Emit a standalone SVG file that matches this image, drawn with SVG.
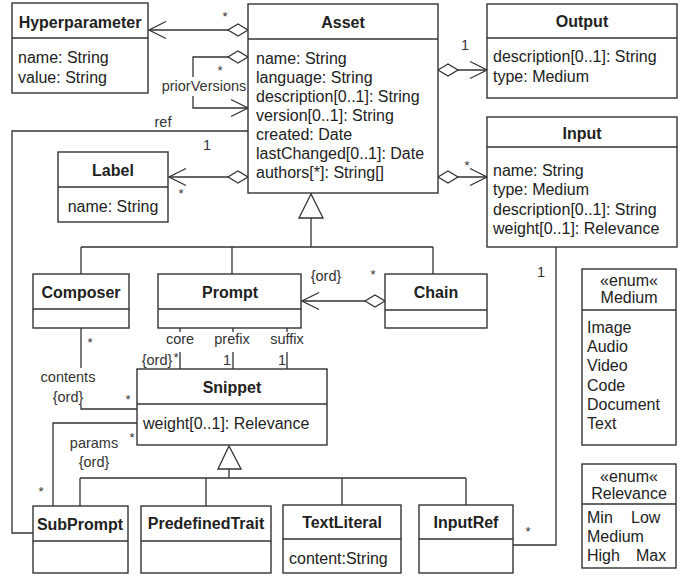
<svg xmlns="http://www.w3.org/2000/svg" width="684" height="576" viewBox="0 0 684 576">
<style>
.box{fill:#fff;stroke:#333;stroke-width:1.4}
.ln{fill:none;stroke:#333;stroke-width:1.3}
text{font-family:"Liberation Sans",Arial,sans-serif;fill:#222}
.t{font-size:16px;font-weight:bold;text-anchor:middle;dominant-baseline:central}
.a{font-size:16px;dominant-baseline:central}
.c{font-size:16px;text-anchor:middle;dominant-baseline:central}
.l{font-size:14.5px;text-anchor:middle;dominant-baseline:central;fill:#333}
.s{font-size:13px;text-anchor:middle;fill:#333}
</style>
<defs>
<marker id="arr" markerUnits="userSpaceOnUse" viewBox="-20 -10 22 20" refX="0" refY="0" markerWidth="22" markerHeight="20" orient="auto" overflow="visible">
<path d="M-17,-8.5 L0,0 L-17,8.5" fill="none" stroke="#333" stroke-width="1.3"/>
</marker>
<marker id="dia" markerUnits="userSpaceOnUse" viewBox="-1 -8 22 16" refX="0" refY="0" markerWidth="22" markerHeight="16" orient="auto" overflow="visible">
<path d="M0,0 L10,-6 L20,0 L10,6 Z" fill="#fff" stroke="#333" stroke-width="1.3"/>
</marker>
</defs>

<g id="connectors">
<path class="ln" d="M248,30 L149,30" marker-start="url(#dia)" marker-end="url(#arr)"/>
<path class="ln" d="M248,57 L193,57 L193,77" marker-start="url(#dia)"/>
<path class="ln" d="M193,96 L193,108 L248,108" marker-end="url(#arr)"/>
<path class="ln" d="M248,131 L12,131 L12,533 L33,533"/>
<path class="ln" d="M248,177 L169,177" marker-start="url(#dia)" marker-end="url(#arr)"/>
<path class="ln" d="M438,70 L487,70" marker-start="url(#dia)" marker-end="url(#arr)"/>
<path class="ln" d="M438,177 L487,177" marker-start="url(#dia)" marker-end="url(#arr)"/>
<path class="ln" d="M311,218 L311,247 M81,247 L433,247 M81,247 L81,274 M232,247 L232,274 M433,247 L433,274"/>
<polygon points="311,194 299,218 323,218" fill="#fff" stroke="#333" stroke-width="1.3"/>
<path class="ln" d="M385,301 L302,301" marker-start="url(#dia)" marker-end="url(#arr)"/>
<path class="ln" d="M180,328 L180,332 M180,352 L180,369 M233,328 L233,332 M233,352 L233,369 M287,328 L287,332 M287,352 L287,369"/>
<path class="ln" d="M81,328 L81,368 M81,405 L81,409 L137,409"/>
<path class="ln" d="M137,423 L53,423 L53,506"/>
<path class="ln" d="M229,469 L229,478 M80,478 L466,478 M80,478 L80,506 M206,478 L206,506 M342,478 L342,505 M466,478 L466,505"/>
<polygon points="229,446 218,469 241,469" fill="#fff" stroke="#333" stroke-width="1.3"/>
<path class="ln" d="M556,247 L556,545 L513,545"/>

<text class="s" x="225" y="21">*</text>
<text class="s" x="220" y="75">*</text>
<text class="l" x="204" y="86">priorVersions</text>
<text class="l" x="163" y="122">ref</text>
<text class="l" x="207" y="145">1</text>
<text class="s" x="181" y="198">*</text>
<text class="l" x="465" y="45">1</text>
<text class="s" x="467" y="170">*</text>
<text class="l" x="326" y="276">{ord}</text>
<text class="s" x="373" y="279">*</text>
<text class="s" x="90" y="347">*</text>
<text class="l" x="68" y="377">contents</text>
<text class="l" x="68" y="397">{ord}</text>
<text class="s" x="128" y="404">*</text>
<text class="l" x="180" y="339">core</text>
<text class="l" x="232" y="339">prefix</text>
<text class="l" x="287" y="339">suffix</text>
<text class="l" x="157" y="360">{ord}</text>
<text class="s" x="176" y="362">*</text>
<text class="l" x="227" y="360">1</text>
<text class="l" x="282" y="360">1</text>
<text class="l" x="94" y="443">params</text>
<text class="l" x="94" y="462">{ord}</text>
<text class="s" x="132" y="442">*</text>
<text class="s" x="41" y="496">*</text>
<text class="l" x="541" y="272">1</text>
<text class="s" x="528" y="536">*</text>
</g>

<g id="Hyperparameter">
<rect class="box" x="12" y="3" width="136" height="90"/>
<line class="ln" x1="12" y1="38" x2="148" y2="38"/>
<text class="t" x="80" y="22">Hyperparameter</text>
<text class="a" x="18" y="57">name: String</text>
<text class="a" x="18" y="77">value: String</text>
</g>

<g id="Asset">
<rect class="box" x="248" y="4" width="190" height="189"/>
<line class="ln" x1="248" y1="39" x2="438" y2="39"/>
<text class="t" x="343" y="22">Asset</text>
<text class="a" x="256" y="58">name: String</text>
<text class="a" x="256" y="77">language: String</text>
<text class="a" x="256" y="96">description[0..1]: String</text>
<text class="a" x="256" y="115">version[0..1]: String</text>
<text class="a" x="256" y="134">created: Date</text>
<text class="a" x="256" y="153">lastChanged[0..1]: Date</text>
<text class="a" x="256" y="172">authors[*]: String[]</text>
</g>

<g id="Output">
<rect class="box" x="487" y="4" width="190" height="94"/>
<line class="ln" x1="487" y1="38" x2="677" y2="38"/>
<text class="t" x="582" y="21">Output</text>
<text class="a" x="493" y="56">description[0..1]: String</text>
<text class="a" x="493" y="76">type: Medium</text>
</g>

<g id="Input">
<rect class="box" x="487" y="117" width="190" height="130"/>
<line class="ln" x1="487" y1="147" x2="677" y2="147"/>
<text class="t" x="582" y="133">Input</text>
<text class="a" x="493" y="170">name: String</text>
<text class="a" x="493" y="189">type: Medium</text>
<text class="a" x="493" y="209">description[0..1]: String</text>
<text class="a" x="493" y="228">weight[0..1]: Relevance</text>
</g>

<g id="Label">
<rect class="box" x="58" y="152" width="110" height="70"/>
<line class="ln" x1="58" y1="187" x2="168" y2="187"/>
<text class="t" x="113" y="170">Label</text>
<text class="c" x="113" y="206">name: String</text>
</g>

<g id="Composer">
<rect class="box" x="33" y="274" width="96" height="54"/>
<line class="ln" x1="33" y1="309" x2="129" y2="309"/>
<text class="t" x="81" y="292">Composer</text>
</g>

<g id="Prompt">
<rect class="box" x="158" y="274" width="143" height="54"/>
<line class="ln" x1="158" y1="309" x2="301" y2="309"/>
<text class="t" x="230" y="292">Prompt</text>
</g>

<g id="Chain">
<rect class="box" x="385" y="274" width="102" height="54"/>
<line class="ln" x1="385" y1="310" x2="487" y2="310"/>
<text class="t" x="436" y="292">Chain</text>
</g>

<g id="Snippet">
<rect class="box" x="137" y="369" width="190" height="76"/>
<line class="ln" x1="137" y1="404" x2="327" y2="404"/>
<text class="t" x="232" y="387">Snippet</text>
<text class="a" x="143" y="423">weight[0..1]: Relevance</text>
</g>

<g id="SubPrompt">
<rect class="box" x="33" y="506" width="95" height="67"/>
<line class="ln" x1="33" y1="541" x2="128" y2="541"/>
<text class="t" x="80" y="524">SubPrompt</text>
</g>

<g id="PredefinedTrait">
<rect class="box" x="141" y="506" width="130" height="67"/>
<line class="ln" x1="141" y1="541" x2="271" y2="541"/>
<text class="t" x="206" y="523">PredefinedTrait</text>
</g>

<g id="TextLiteral">
<rect class="box" x="283" y="505" width="118" height="68"/>
<line class="ln" x1="283" y1="539" x2="401" y2="539"/>
<text class="t" x="342" y="522">TextLiteral</text>
<text class="a" x="289" y="558">content:String</text>
</g>

<g id="InputRef">
<rect class="box" x="419" y="505" width="94" height="68"/>
<line class="ln" x1="419" y1="539" x2="513" y2="539"/>
<text class="t" x="466" y="522">InputRef</text>
</g>

<g id="Medium">
<rect class="box" x="582" y="269" width="94" height="176"/>
<line class="ln" x1="582" y1="310" x2="676" y2="310"/>
<text class="c" x="629" y="280">«enum«</text>
<text class="c" x="629" y="297">Medium</text>
<text class="a" x="587" y="327">Image</text>
<text class="a" x="587" y="346">Audio</text>
<text class="a" x="587" y="365">Video</text>
<text class="a" x="587" y="385">Code</text>
<text class="a" x="587" y="404">Document</text>
<text class="a" x="587" y="423">Text</text>
</g>

<g id="Relevance">
<rect class="box" x="582" y="464" width="94" height="104"/>
<line class="ln" x1="582" y1="504" x2="676" y2="504"/>
<text class="c" x="629" y="476">«enum«</text>
<text class="c" x="629" y="493">Relevance</text>
<text class="a" x="587" y="517">Min</text>
<text class="a" x="631" y="517">Low</text>
<text class="a" x="587" y="536">Medium</text>
<text class="a" x="587" y="555">High</text>
<text class="a" x="636" y="555">Max</text>
</g>
</svg>
